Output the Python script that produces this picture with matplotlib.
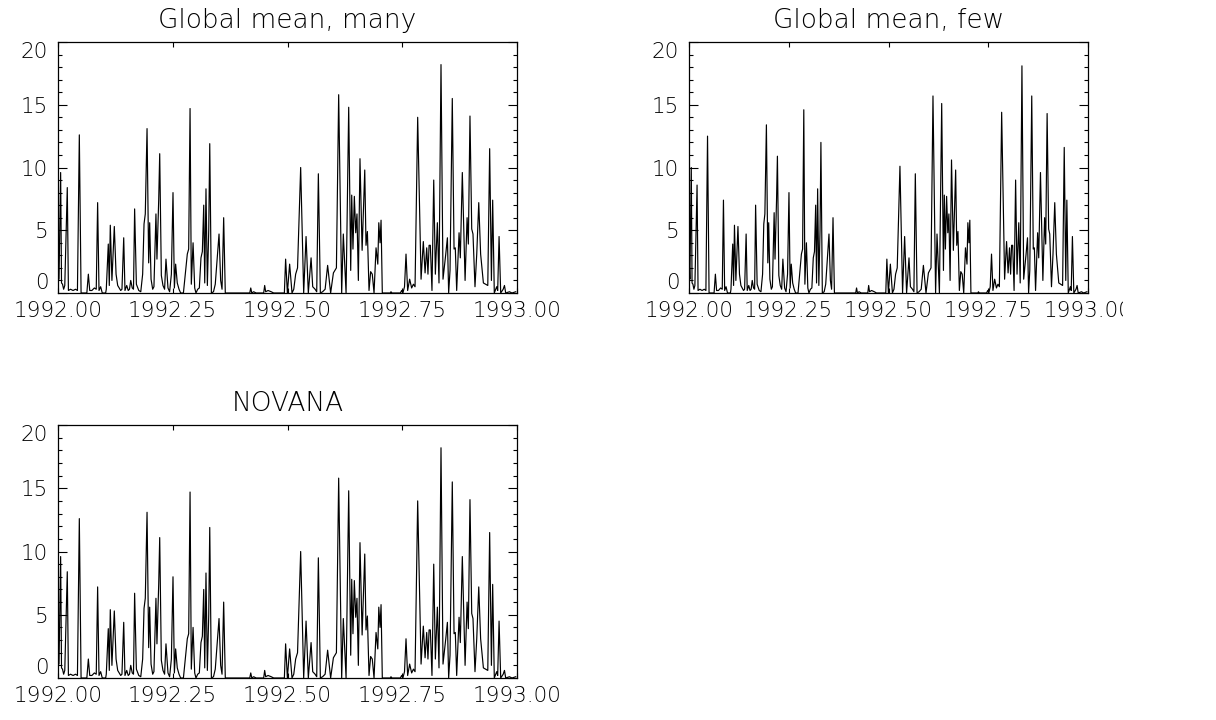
import numpy as np
import matplotlib
matplotlib.use("Agg")
import matplotlib.pyplot as plt
from matplotlib.transforms import Bbox, TransformedBbox

days = [0.0, 0.8, 2.1, 2.8, 3.6, 4.5, 5.4, 7.4, 8.3, 10.0, 12.0, 14.0, 15.5, 17.0, 18.4,
        23.0, 24.2, 25.3, 27.0, 29.0, 30.5, 31.6, 32.7, 34.0, 35.3, 38.0, 38.5, 40.1, 40.9,
        41.7, 43.0, 44.9, 46.3, 47.6, 48.8, 50.0, 51.0, 52.4, 53.4, 54.8, 56.0, 57.0, 58.0,
        59.2, 60.2, 61.1, 62.5, 64.4, 66.0, 67.5, 68.6, 69.6, 71.0, 72.3, 73.1, 74.2, 75.5,
        76.5, 78.1, 78.9, 80.3, 81.1, 82.4, 83.7, 85.0, 86.1, 87.7, 89.0, 90.4, 91.7, 92.8,
        93.8, 95.1, 96.5, 97.8, 100.0, 101.5, 103.1, 104.2, 105.3, 106.3, 107.7, 109.0,
        110.0, 111.4, 112.7, 114.0, 115.1, 116.2, 117.0, 118.0, 119.1, 120.2, 121.0, 122.3,
        124.0, 125.4, 127.0, 128.4, 129.7, 130.8, 132.1, 133.4, 152.9, 153.7, 154.5, 156.0,
        158.0, 164.0, 164.8, 165.6, 167.5, 170.0, 172.0, 180.5, 181.5, 182.9, 184.7, 186.6,
        188.0, 189.5, 191.0, 193.5, 195.9, 197.8, 199.6, 201.8, 203.1, 205.0, 206.3, 207.6,
        209.2, 211.0, 213.0, 215.0, 217.4, 219.6, 222.0, 223.8, 226.2, 227.5, 229.7, 231.8,
        233.4, 234.2, 235.2, 236.3, 237.4, 238.4, 239.5, 240.8, 242.5, 244.6, 245.6, 246.7,
        248.0, 249.3, 250.6, 252.0, 253.6, 255.0, 255.8, 256.8, 257.6, 258.6, 265.0, 265.5,
        266.3, 273.0, 274.0, 275.0, 276.3, 277.5, 278.8, 280.4, 282.0, 283.4, 284.7, 286.8,
        289.5, 291.3, 292.7, 294.0, 295.0, 295.9, 296.9, 298.2, 299.6, 300.9, 302.5, 303.8,
        305.4, 307.0, 309.2, 310.5, 311.5, 312.6, 314.4, 315.8, 316.8, 317.9, 319.8, 320.8,
        322.4, 324.6, 326.2, 327.2, 328.5, 329.9, 330.9, 332.5, 333.9, 335.5, 337.0, 339.2,
        341.0, 342.7, 344.2, 345.6, 346.6, 347.9, 349.8, 350.6, 351.7, 353.0, 355.0, 356.0,
        357.0, 360.0, 362.0, 365.0]

many = [3.0, 1.1, 9.6, 0.8, 0.7, 0.3, 0.6, 8.4, 0.2, 0.3, 0.2, 0.3, 0.2, 12.6, 0.0,
        0.0, 1.5, 0.2, 0.2, 0.4, 0.3, 7.2, 0.2, 0.5, 0.0, 0.0, 0.3, 3.9, 0.6,
        5.4, 1.0, 5.3, 1.5, 0.6, 0.4, 0.2, 0.3, 4.4, 0.2, 0.6, 0.2, 0.3, 1.0,
        0.4, 0.3, 6.7, 0.7, 0.2, 0.1, 1.5, 5.5, 6.3, 13.1, 2.4, 5.6, 1.1, 0.3,
        0.5, 6.3, 2.7, 7.4, 11.1, 1.4, 0.6, 0.3, 2.7, 0.4, 0.1, 1.5, 8.0, 0.4,
        2.3, 0.8, 0.3, 0.0, 0.0, 1.5, 3.1, 3.5, 14.7, 0.7, 4.0, 0.4,
        0.0, 0.3, 0.4, 2.8, 3.3, 7.0, 0.8, 8.3, 0.6, 5.0, 11.9, 0.0,
        0.1, 0.7, 2.8, 4.7, 1.0, 0.3, 6.0, 0.0, 0.0, 0.4, 0.0, 0.1,
        0.0, 0.0, 0.6, 0.1, 0.2, 0.1, 0.0, 0.0, 2.7, 0.0, 2.3, 0.0,
        0.3, 1.5, 2.0, 10.0, 0.0, 4.5, 0.0, 2.8, 0.5, 0.3, 0.1, 9.5,
        0.0, 0.1, 0.3, 2.2, 0.0, 1.6, 2.0, 15.8, 0.0, 4.7, 0.0, 14.8,
        1.8, 7.8, 3.5, 7.7, 4.8, 6.3, 1.0, 10.7, 3.4, 9.8, 3.8, 4.9,
        0.2, 1.7, 1.5, 0.0, 3.6, 2.3, 5.6, 4.0, 5.8, 0.0, 0.0, 0.1,
        0.0, 0.0, 0.2, 0.0, 0.5, 3.1, 0.2, 1.1, 0.4, 0.7, 0.5, 14.0,
        1.1, 4.1, 1.6, 3.6, 1.5, 3.8, 3.8, 0.2, 9.0, 1.5, 5.6, 0.8,
        18.2, 1.1, 3.1, 4.4, 0.0, 1.8, 15.5, 3.5, 3.6, 0.2, 4.8, 2.8,
        9.6, 1.0, 6.0, 3.9, 14.1, 5.1, 4.7, 0.5, 3.1, 7.2, 3.1, 0.8,
        0.7, 0.6, 11.5, 1.0, 7.4, 0.0, 0.5, 0.2, 4.5, 0.0, 0.3, 0.6,
        0.0, 0.1, 0.0, 0.1]

# the "few" panel differs from "many" only at these days
few_changes = {2.1: 10.0, 7.4: 8.6, 17.0: 12.5, 31.6: 7.4, 52.4: 4.7, 61.1: 7.0,
               71.0: 13.4, 78.1: 6.4, 81.1: 10.9, 105.3: 14.6, 121.0: 12.0,
               193.5: 10.1, 223.8: 15.7, 231.8: 15.1, 240.8: 10.6, 286.8: 14.4,
               305.4: 18.1, 314.4: 15.7, 328.5: 14.3, 344.2: 11.6}

novana = list(many)

few = [few_changes.get(d, v) for d, v in zip(days, many)]
t = [1992.0 + d / 366.0 for d in days]

titles = ["Global mean, many", "Global mean, few", "NOVANA"]
series = [many, few, novana]
xticks = [1992.0, 1992.25, 1992.5, 1992.75, 1993.0]
xlabels = ["1992.00", "1992.25", "1992.50", "1992.75", "1993.00"]
yticks = [0, 5, 10, 15, 20]

W, H = 1216, 720
fig = plt.figure(figsize=(W / 100, H / 100), dpi=100)
boxes = [(58, 42, 517, 293), (689, 42, 1088, 293), (58, 425, 517, 678)]

fnt = dict(family="DejaVu Sans", weight="light", size=15.5)

for (x0, y0, x1, y1), title, vals in zip(boxes, titles, series):
    ax = fig.add_axes([x0 / W, 1 - y1 / H, (x1 - x0) / W, (y1 - y0) / H])
    ax.plot(t, vals, color="black", lw=0.85)
    ax.set_xlim(1992.0, 1993.0)
    ax.set_ylim(0, 20)
    for s in ax.spines.values():
        s.set_linewidth(0.9)
    ax.set_xticks(xticks)
    ax.set_xticklabels(xlabels, fontdict=fnt)
    ax.set_yticks(yticks)
    ax.set_yticklabels([str(v) for v in yticks], fontdict=fnt)
    ax.set_yticks(np.arange(0, 21, 1), minor=True)
    ax.tick_params(axis="x", which="major", direction="in", length=3.6, width=0.8,
                   top=True, pad=6)
    ax.tick_params(axis="y", which="major", direction="in", length=6.5, width=0.8,
                   right=True, pad=7)
    ax.tick_params(axis="y", which="minor", direction="in", length=3.2, width=0.8,
                   right=True)
    ylab = ax.get_yticklabels()
    ylab[0].set_va("bottom")
    ylab[-1].set_va("top")
    ax.set_title(title, fontdict=dict(fnt, size=19), pad=10)
    if title == "Global mean, few":
        lab = ax.get_xticklabels()[-1]
        lab.set_clip_on(True)
        lab.set_clip_box(TransformedBbox(Bbox([[0, 0], [1123 / W, 1]]), fig.transFigure))

fig.savefig("out.png", dpi=100)
